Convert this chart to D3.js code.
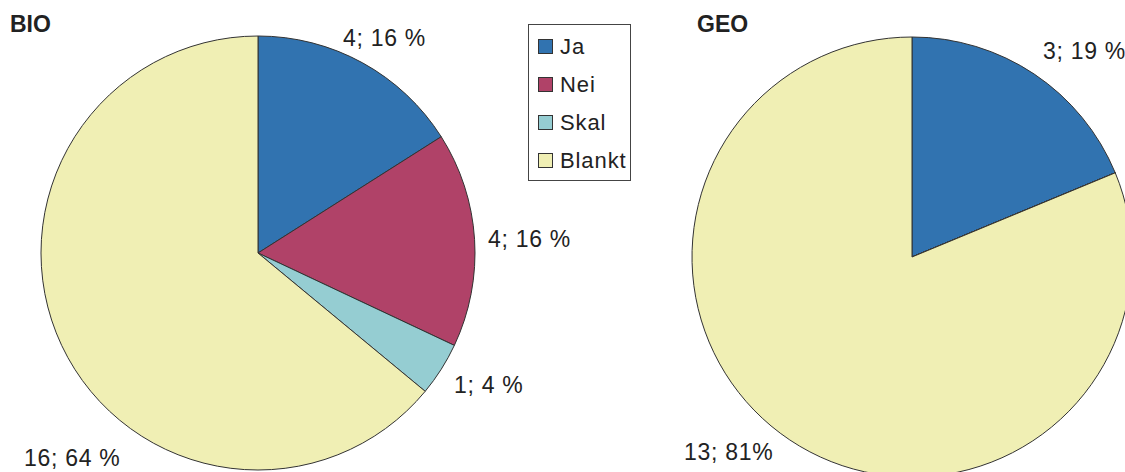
<!DOCTYPE html>
<html>
<head>
<meta charset="utf-8">
<script src="https://cdn.jsdelivr.net/npm/d3@7"></script>
<style>
  html, body { margin: 0; padding: 0; background: #fff; }
  svg { display: block; }
  text { font-family: "Liberation Sans", Arial, sans-serif; fill: #222; }
</style>
</head>
<body>
<svg id="chart" width="1125" height="472"></svg>
<script>
// ---- data ----
const categories = ["Ja", "Nei", "Skal", "Blankt"];
const bioValues = [4, 4, 1, 16];
const geoValues = [3, 0, 0, 13];
const bioLabels = ["4; 16 %", "4; 16 %", "1; 4 %", "16; 64 %"];
const geoLabels = ["3; 19 %", "", "", "13; 81%"];
const chartTitles = ["BIO", "GEO"];

// ---- layout / style ----
const colors = ["#3173b0", "#b04268", "#95cdd2", "#f0efb4"];
const pies = [
  { title: chartTitles[0], values: bioValues, labels: bioLabels, cx: 258, cy: 253, r: 217, titleX: 10, titleY: 32,
    labelOffsets: [[85, -207], [230, -6], [196, 140], [-234, 213]] },
  { title: chartTitles[1], values: geoValues, labels: geoLabels, cx: 912, cy: 257, r: 220, titleX: 697, titleY: 32,
    labelOffsets: [[131, -198], null, null, [-228, 203]] }
];

const svg = d3.select("#chart");
const color = d3.scaleOrdinal().domain(categories).range(colors);
const pie = d3.pie().sort(null).value(d => d.value);

pies.forEach(p => {
  const data = categories.map((c, i) => ({ cat: c, value: p.values[i], label: p.labels[i], off: p.labelOffsets[i] }));
  const arc = d3.arc().innerRadius(0).outerRadius(p.r);
  const g = svg.append("g").attr("transform", `translate(${p.cx},${p.cy})`);
  g.selectAll("path.slice")
    .data(pie(data))
    .join("path")
    .attr("class", "slice")
    .attr("d", arc)
    .attr("fill", d => color(d.data.cat))
    .attr("stroke", "#333")
    .attr("stroke-width", 1)
    .attr("stroke-linejoin", "round");

  g.selectAll("text.lbl")
    .data(data.filter(d => d.label && d.off))
    .join("text")
    .attr("class", "lbl")
    .attr("x", d => d.off[0])
    .attr("y", d => d.off[1])
    .style("font-size", "23px")
    .style("letter-spacing", "0.7px")
    .text(d => d.label);

  svg.append("text")
    .attr("x", p.titleX)
    .attr("y", p.titleY)
    .style("font-size", "23px")
    .style("font-weight", "bold")
    .text(p.title);
});

// ---- legend ----
const legend = svg.append("g");
legend.append("rect")
  .attr("x", 528.5).attr("y", 24.5).attr("width", 102).attr("height", 156)
  .attr("fill", "#fff").attr("stroke", "#444").attr("stroke-width", 1);
const items = legend.selectAll("g.item")
  .data(categories)
  .join("g")
  .attr("class", "item")
  .attr("transform", (d, i) => `translate(538, ${39 + i * 38})`);
items.append("rect")
  .attr("x", 0.5).attr("y", 0.5).attr("width", 14).attr("height", 14)
  .attr("fill", d => color(d)).attr("stroke", "#333").attr("stroke-width", 1);
items.append("text")
  .attr("x", 22).attr("y", 15)
  .style("font-size", "22px")
  .style("letter-spacing", "0.9px")
  .text(d => d);
</script>
</body>
</html>
